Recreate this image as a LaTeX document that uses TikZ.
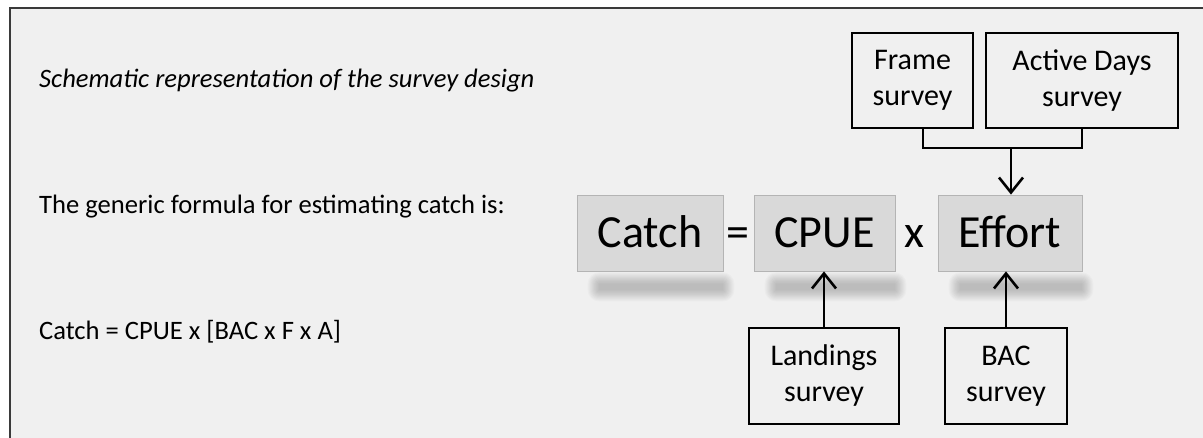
\documentclass[tikz,border=0pt]{standalone}
\usepackage{fontspec}
\setmainfont{Carlito}
\usetikzlibrary{arrows.meta,calc}
\pgfdeclarelayer{ground}
\pgfdeclarelayer{shade}
\pgfsetlayers{ground,shade,main}
\definecolor{panel}{HTML}{F0F0F0}
\definecolor{termfill}{HTML}{D9D9D9}
\definecolor{termedge}{HTML}{B4B4B4}
\definecolor{framecol}{HTML}{3A3A3A}
\tikzset{
  survey/.style={draw=black, line width=2.4pt, fill=panel, align=center, inner sep=0pt,
    minimum height=95pt, font=\fontsize{30}{36}\selectfont},
  term/.style={draw=termedge, line width=0.8pt, fill=termfill, minimum height=76pt,
    inner sep=0pt, text height=29.6pt, text depth=0pt, font=\fontsize{46}{55}\selectfont},
  op/.style={anchor=base, inner sep=0pt, font=\fontsize{46}{55}\selectfont},
  note/.style={anchor=base west, inner sep=0pt, font=\fontsize{26.6}{32}\selectfont},
  link/.style={line width=2.6pt},
  feed/.style={line width=2.6pt, -{Straight Barb[length=15pt,width=24pt]}},
}
\begin{document}
\begin{tikzpicture}[x=1pt,y=-1pt]
\useasboundingbox (0,0) rectangle (1203,438);

% page and framed panel
\begin{pgfonlayer}{ground}
  \fill[white] (0,0) rectangle (1203,438);
  \fill[panel] (10,8.5) rectangle (1203,438);
  \draw[framecol, line width=2pt] (10,438) -- (10,8.5) -- (1203,8.5);
\end{pgfonlayer}

% explanatory text
\node[note] (title) at (39,88) {\itshape Schematic representation of the survey design};
\node[note] (intro) at (39,214) {The generic formula for estimating catch is:};
\node[note] (formula) at (39,340) {Catch = CPUE x [BAC x F x A]};

% formula terms
\node[term, minimum width=146pt] (catch) at (650,233) {Catch};
\node[term, minimum width=141pt] (cpue) at (824.5,233) {CPUE};
\node[term, minimum width=144pt] (effort) at (1010,233) {Effort};
\node[op] (eq) at (737.5,248) {=};
\node[op] (times) at (914,248) {x};

% soft shadows under the terms, built from stacked translucent rounded bands
\begin{pgfonlayer}{shade}
  \foreach \b in {catch,cpue,effort}{
    \foreach \k in {0,...,10}{
      \pgfmathsetmacro\rc{0.5+1.1*\k}
      \pgfmathsetmacro\gr{1.1*\k}
      \fill[black, opacity=0.02, rounded corners=\rc pt]
        ($(\b.south west)+(22-\gr,12-\gr)$) rectangle ($(\b.south east)+(0+\gr,19+\gr)$);
    }
  }
\end{pgfonlayer}

% surveys
\node[survey, minimum width=121pt] (frame) at (912.5,80.5) {Frame\\survey};
\node[survey, minimum width=192pt] (active) at (1082,80.5) {Active Days\\survey};
\node[survey, minimum width=150pt, minimum height=96pt] (landings) at (824,376) {Landings\\survey};
\node[survey, minimum width=122pt, minimum height=96pt] (bac) at (1006,376) {BAC\\survey};

% connectors
\coordinate (join) at (1011,148);
\draw[link] ([xshift=10.5pt]frame.south) |- (join) -| (active.south);
\draw[feed] (join) -- (join |- effort.north);
\draw[feed] (landings.north) -- (landings.north |- cpue.south);
\draw[feed] (bac.north) -- (bac.north |- effort.south);
\end{tikzpicture}
\end{document}
